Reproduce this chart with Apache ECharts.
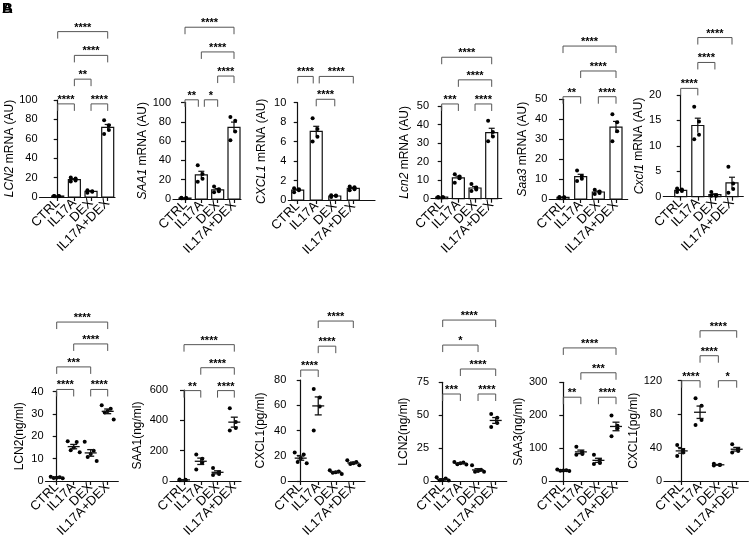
<!DOCTYPE html>
<html><head><meta charset="utf-8">
<script src="https://cdn.jsdelivr.net/npm/echarts@6/dist/echarts.min.js"></script>
<style>html,body{margin:0;padding:0;background:#fff}#c{width:750px;height:540px}</style>
</head><body><div id="c"></div>
<script>
const groups = ['CTRL', 'IL17A', 'DEX', 'IL17A+DEX'];

// ---- top row: mRNA (bars, mean + SEM) ----
const LCN2_mRNA  = [[1.1,1.0,0.9,1.0],[20,19,17,16],[7,6,5.5,4.5],[79,74,69,65]];
const SAA1_mRNA  = [[1.2,1.0,0.9,0.8],[35,26,21,18],[13,10,8,7],[85,81,70,61]];
const CXCL1_mRNA = [[1.2,1.1,1.0,0.8],[8.4,7.3,6.5,6.0],[0.5,0.45,0.4,0.3],[1.4,1.3,1.1,1.0]];
const Lcn2_mRNA  = [[0.9,0.8,0.8,0.7],[13.2,12.0,11.0,8.6],[7.9,6.0,5.0,4.2],[42,36,33.5,31]];
const Saa3_mRNA  = [[1.0,0.9,0.8,0.6],[14.3,11.5,10.2,9.0],[4.7,3.8,3.0,2.5],[42.5,38.5,34,29]];
const Cxcl1_mRNA = [[1.6,1.4,1.1,0.9],[17.7,14.8,12.2,11.3],[0.9,0.3,0.2,0.2],[5.9,2.6,1.5,0.8]];

// ---- bottom row: protein (scatter, mean + SEM) ----
const LCN2_prot  = [[1.9,1.7,1.5,1.3,1.2],[17.8,17.5,15,13.8,12.9],[17.6,13.6,12.1,10.7,8.9],[33.9,32.4,31.4,30.7,27.6]];
const SAA1_prot  = [[10,8,6,5],[175,147,122,76],[85,58,46,40],[480,389,350,333]];
const CXCL1_prot = [[22.5,21,18,15,14],[72.9,66.1,59,39.9],[8.5,7.5,7,6.5,5.5],[16.5,15,14,13.5,12.5]];
const Lcn2_prot  = [[2.8,1.8,1.0,0.5,0.3],[14.5,14,13.5,12.8,12.5],[12,8.5,7.5,7,7],[51,48,44,41]];
const Saa3_prot  = [[35,33,32,31,30],[104,88,82,80],[80,64,55,52],[199,168,160,136]];
const Cxcl1_prot = [[43,37,34,30],[99,90,73,67],[20.5,19.5,19,18.5],[44,38,36,34]];

// ---- y tick labels ----
const ticks_LCN2_mRNA  = [0,20,40,60,80,100];
const ticks_SAA1_mRNA  = [0,20,40,60,80,100];
const ticks_CXCL1_mRNA = [0,2,4,6,8,10];
const ticks_Lcn2_mRNA  = [0,10,20,30,40,50];
const ticks_Saa3_mRNA  = [0,10,20,30,40,50];
const ticks_Cxcl1_mRNA = [0,5,10,15,20];
const ticks_LCN2_prot  = [0,10,20,30,40];
const ticks_SAA1_prot  = [0,200,400,600];
const ticks_CXCL1_prot = [0,20,40,60,80];
const ticks_Lcn2_prot  = [0,25,50,75];
const ticks_Saa3_prot  = [0,100,200,300];
const ticks_Cxcl1_prot = [0,40,80,120];

// ---- significance brackets: [group a, group b, bracket height (data units), label] ----
const sig_LCN2_mRNA  = [[0,1,96,'****'],[2,3,96,'****'],[1,2,121.5,'**'],[1,3,146,'****'],[0,3,170.5,'****']];
const sig_SAA1_mRNA  = [[0,1,102.8,'**'],[1,2,102.8,'*'],[2,3,127.4,'****'],[1,3,152.4,'****'],[0,3,178,'****']];
const sig_CXCL1_mRNA = [[0,1,12.7,'****'],[1,3,12.7,'****'],[1,2,10.35,'****']];
const sig_Lcn2_mRNA  = [[0,1,51.1,'***'],[2,3,51.1,'****'],[1,3,64.1,'****'],[0,3,76.3,'****']];
const sig_Saa3_mRNA  = [[0,1,51.3,'**'],[2,3,51.3,'****'],[1,3,64.2,'****'],[0,3,76.7,'****']];
const sig_Cxcl1_mRNA = [[0,1,21.3,'****'],[1,2,26.4,'****'],[1,3,31.3,'****']];
const sig_LCN2_prot  = [[0,1,41,'****'],[2,3,41,'****'],[0,2,51.1,'***'],[1,3,61.4,'****'],[0,3,71.2,'****']];
const sig_SAA1_prot  = [[0,1,596,'**'],[2,3,596,'****'],[1,3,747,'****'],[0,3,899,'****']];
const sig_CXCL1_prot = [[0,1,87.9,'****'],[1,2,106.8,'****'],[1,3,126.7,'****']];
const sig_Lcn2_prot  = [[0,1,66.1,'***'],[2,3,66.1,'****'],[1,3,85.1,'****'],[0,2,103.3,'*'],[0,3,122.3,'****']];
const sig_Saa3_prot  = [[0,1,254.7,'**'],[2,3,254.7,'****'],[1,3,329,'***'],[0,3,404.5,'****']];
const sig_Cxcl1_prot = [[0,1,120,'****'],[2,3,120,'*'],[1,2,149.9,'****'],[1,3,179.8,'****']];

// ---- axis titles ----
const yNames = [
  '{i|LCN2} mRNA (AU)', '{i|SAA1} mRNA (AU)', '{i|CXCL1} mRNA (AU)',
  '{i|Lcn2} mRNA (AU)', '{i|Saa3} mRNA (AU)', '{i|Cxcl1} mRNA (AU)',
  'LCN2(ng/ml)', 'SAA1(ng/ml)', 'CXCL1(pg/ml)',
  'LCN2(ng/ml)', 'SAA3(ng/ml)', 'CXCL1(pg/ml)'
];

// layout: [y-axis x, x-axis end, first category x, last category x, top (y max) px, bottom (y 0) px, name centre offset]
const layout = [
  [39.5,115,57.7,107.7,100,197,20],
  [173,241,185,234,102.5,199,28],
  [288.3,375,297.7,353.3,102.7,200,28],
  [431,501.7,441.7,491.7,106,198.7,27],
  [549.3,627.7,563,616,99.3,199,27.6],
  [663.3,743.3,680.7,732,95,196.7,21.6],
  [45.5,118.3,56.7,107.7,391.7,485,26.5],
  [170,241,184,234.3,390,485,33],
  [288.3,365,300.7,353.3,380,481.7,29],
  [431,506.7,442.7,495.7,382.3,481,28],
  [549.3,627.7,563.3,616,382.3,481.7,32],
  [664,748.3,681.7,736.7,380.7,481,24]
];

const panels = [
  {kind:'bar', pts:LCN2_mRNA,  ticks:ticks_LCN2_mRNA,  sig:sig_LCN2_mRNA},
  {kind:'bar', pts:SAA1_mRNA,  ticks:ticks_SAA1_mRNA,  sig:sig_SAA1_mRNA},
  {kind:'bar', pts:CXCL1_mRNA, ticks:ticks_CXCL1_mRNA, sig:sig_CXCL1_mRNA},
  {kind:'bar', pts:Lcn2_mRNA,  ticks:ticks_Lcn2_mRNA,  sig:sig_Lcn2_mRNA},
  {kind:'bar', pts:Saa3_mRNA,  ticks:ticks_Saa3_mRNA,  sig:sig_Saa3_mRNA},
  {kind:'bar', pts:Cxcl1_mRNA, ticks:ticks_Cxcl1_mRNA, sig:sig_Cxcl1_mRNA},
  {kind:'dot', pts:LCN2_prot,  ticks:ticks_LCN2_prot,  sig:sig_LCN2_prot},
  {kind:'dot', pts:SAA1_prot,  ticks:ticks_SAA1_prot,  sig:sig_SAA1_prot},
  {kind:'dot', pts:CXCL1_prot, ticks:ticks_CXCL1_prot, sig:sig_CXCL1_prot},
  {kind:'dot', pts:Lcn2_prot,  ticks:ticks_Lcn2_prot,  sig:sig_Lcn2_prot},
  {kind:'dot', pts:Saa3_prot,  ticks:ticks_Saa3_prot,  sig:sig_Saa3_prot},
  {kind:'dot', pts:Cxcl1_prot, ticks:ticks_Cxcl1_prot, sig:sig_Cxcl1_prot}
];

const FONT = '"Liberation Sans", Arial, Helvetica, sans-serif';
const INK = '#111';

function meanSem(a) {
  const n = a.length, m = a.reduce((s, v) => s + v, 0) / n;
  const sd = Math.sqrt(a.reduce((s, v) => s + (v - m) * (v - m), 0) / (n - 1));
  return [m, sd / Math.sqrt(n)];
}

const grids = [], xAxes = [], yAxes = [], series = [];

panels.forEach((p, i) => {
  const [ax, ex, c0, c3, top, bot, nameOff] = layout[i];
  const sp = (c3 - c0) / 3;
  const xMin = -(c0 - ax) / sp, xMax = 3 + (ex - c3) / sp;
  grids.push({left: ax, top: top, width: ex - ax, height: bot - top, containLabel: false});
  // two stacked x axes per panel (labels split 0/2 and 1/3) so that the rotated
  // neighbouring labels never compete with each other in the overlap check
  [[0, 2], [1, 3]].forEach((vals, k) => {
    xAxes.push({
      gridIndex: i, type: 'value', min: xMin, max: xMax, position: 'bottom', offset: 0,
      axisLine: {show: k === 0, onZero: false, lineStyle: {color: INK, width: 1.2}},
      axisTick: {show: true, customValues: vals, length: 4, lineStyle: {color: INK, width: 1.2}},
      axisLabel: {show: true, customValues: vals, hideOverlap: false,
        showMinLabel: true, showMaxLabel: true, rotate: 45, margin: 4,
        fontFamily: FONT, fontSize: 13, color: '#000',
        formatter: v => groups[Math.round(v)]},
      splitLine: {show: false}
    });
  });
  const xi = xAxes.length - 2;
  const t = p.ticks;
  yAxes.push({
    gridIndex: i, type: 'value', min: t[0], max: t[t.length - 1], interval: t[1] - t[0],
    name: yNames[i], nameLocation: 'middle', nameGap: nameOff - 7,
    nameTextStyle: {fontFamily: FONT, fontSize: 12, color: '#000',
      rich: {i: {fontFamily: FONT, fontSize: 12, fontStyle: 'italic', color: '#000'}}},
    axisLine: {show: true, lineStyle: {color: INK, width: 1.2}},
    axisTick: {show: true, length: 4, lineStyle: {color: INK, width: 1.2}},
    axisLabel: {fontFamily: FONT, fontSize: 11, color: '#000', margin: 2,
      showMinLabel: true, showMaxLabel: true},
    splitLine: {show: false}
  });

  const stats = p.pts.map((arr, g) => { const [m, s] = meanSem(arr); return [g, m, s]; });

  if (p.kind === 'bar') {
    series.push({
      type: 'custom', xAxisIndex: xi, yAxisIndex: i, clip: false, z: 2,
      data: stats,
      renderItem: (params, api) => {
        const g = api.value(0), m = api.value(1), s = api.value(2);
        const b = api.coord([g, 0]), tp = api.coord([g, m]), hi = api.coord([g, m + s]), lo = api.coord([g, m - s]);
        const w = 12;
        return {type: 'group', children: [
          {type: 'rect', shape: {x: b[0] - w / 2, y: tp[1], width: w, height: b[1] - tp[1]},
            style: {fill: '#fff', stroke: INK, lineWidth: 1.2}},
          {type: 'line', shape: {x1: tp[0], y1: lo[1], x2: tp[0], y2: hi[1]}, style: {stroke: INK, lineWidth: 1.2}},
          {type: 'line', shape: {x1: tp[0] - 3, y1: hi[1], x2: tp[0] + 3, y2: hi[1]}, style: {stroke: INK, lineWidth: 1.2}}
        ]};
      }
    });
  }

  // individual points, spread sideways so they do not overlap
  const ptData = [];
  p.pts.forEach((arr, g) => {
    arr.forEach((v, k) => ptData.push([g, v, k, arr.length]));
  });
  const step = p.kind === 'bar' ? 2.4 : 3;
  series.push({
    type: 'custom', xAxisIndex: xi, yAxisIndex: i, clip: false, z: 3,
    data: ptData,
    renderItem: (params, api) => {
      const g = api.value(0), v = api.value(1), k = api.value(2), n = api.value(3);
      const c = api.coord([g, v]);
      const off = (k - (n - 1) / 2) * step * (k % 2 ? -1 : 1);
      return {type: 'circle', shape: {cx: c[0] + off, cy: c[1], r: 2}, style: {fill: '#000'}};
    }
  });

  if (p.kind === 'dot') {
    series.push({
      type: 'custom', xAxisIndex: xi, yAxisIndex: i, clip: false, z: 4,
      data: stats,
      renderItem: (params, api) => {
        const g = api.value(0), m = api.value(1), s = api.value(2);
        const c = api.coord([g, m]), hi = api.coord([g, m + s]), lo = api.coord([g, m - s]);
        const st = {stroke: INK, lineWidth: 1.3};
        return {type: 'group', children: [
          {type: 'line', shape: {x1: c[0] - 6, y1: c[1], x2: c[0] + 6, y2: c[1]}, style: st},
          {type: 'line', shape: {x1: c[0], y1: lo[1], x2: c[0], y2: hi[1]}, style: st},
          {type: 'line', shape: {x1: c[0] - 3.5, y1: hi[1], x2: c[0] + 3.5, y2: hi[1]}, style: st},
          {type: 'line', shape: {x1: c[0] - 3.5, y1: lo[1], x2: c[0] + 3.5, y2: lo[1]}, style: st}
        ]};
      }
    });
  }

  // brackets: inset ends that share a group with another bracket at the same height
  const sigData = p.sig.map(([a, b, h], idx) => {
    let ia = 0, ib = 0;
    p.sig.forEach(([a2, b2, h2], j) => {
      if (j === idx || Math.abs(h2 - h) > 1e-9) return;
      if (a2 === a || b2 === a) ia = 3;
      if (a2 === b || b2 === b) ib = 3;
    });
    return [a, b, h, ia, ib];
  });
  const labels = p.sig.map(s => s[3]);
  series.push({
    type: 'custom', xAxisIndex: xi, yAxisIndex: i, clip: false, z: 5,
    data: sigData,
    renderItem: (params, api) => {
      const a = api.value(0), b = api.value(1), h = api.value(2), ia = api.value(3), ib = api.value(4);
      const pa = api.coord([a, h]), pb = api.coord([b, h]);
      const x1 = pa[0] + ia, x2 = pb[0] - ib, y = pa[1];
      return {type: 'group', children: [
        {type: 'polyline', shape: {points: [[x1, y + 7], [x1, y], [x2, y], [x2, y + 7]]},
          style: {stroke: '#555', lineWidth: 1, fill: null}},
        {type: 'text', x: (x1 + x2) / 2, y: y - 4,
          style: {text: labels[params.dataIndex], fontFamily: FONT, fontSize: 11,
            fontWeight: 'bold', fill: '#000', align: 'center', verticalAlign: 'middle'}}
      ]};
    }
  });
});

const chart = echarts.init(document.getElementById('c'), null, {renderer: 'canvas'});
chart.setOption({
  animation: false,
  backgroundColor: '#fff',
  grid: grids, xAxis: xAxes, yAxis: yAxes, series: series,
  graphic: [
    {type: 'text', left: 2, top: 1, style: {text: 'B', font: 'bold 15px ' + FONT, fill: '#000'}},
    {type: 'text', left: 2, top: 1, style: {text: 'A', font: 'bold 15px ' + FONT, fill: '#000'}}
  ]
});
</script></body></html>
